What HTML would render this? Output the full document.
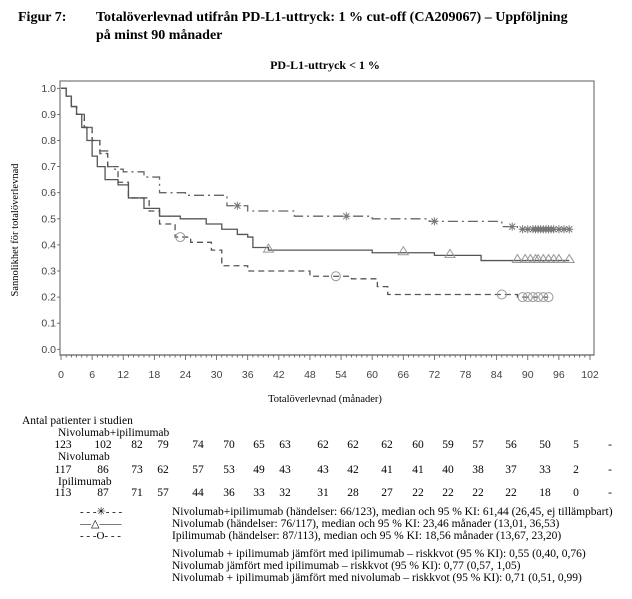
<!DOCTYPE html>
<html><head><meta charset="utf-8">
<style>
body{margin:0;background:#fff;}
svg{display:block;}
.ser{font-family:"Liberation Serif",serif;}
.san{font-family:"Liberation Sans",sans-serif;}
</style></head>
<body>
<svg id="chart" width="632" height="599" viewBox="0 0 632 599" xmlns="http://www.w3.org/2000/svg">
<text class="ser" x="18" y="21" font-size="14" font-weight="bold">Figur 7:</text>
<text class="ser" x="96" y="21" font-size="14" font-weight="bold">Totalöverlevnad utifrån PD-L1-uttryck: 1 % cut-off (CA209067) – Uppföljning</text>
<text class="ser" x="96" y="39" font-size="14" font-weight="bold">på minst 90 månader</text>
<text class="ser" x="325" y="69" font-size="12" font-weight="bold" text-anchor="middle">PD-L1-uttryck &lt; 1 %</text>
<rect x="60" y="81" width="534" height="274" fill="none" stroke="#777" stroke-width="1.2"/>
<text class="ser" transform="translate(18,230) rotate(-90)" font-size="10.5" text-anchor="middle">Sannolikhet för totalöverlevnad</text>
<text class="ser" x="325" y="402" font-size="10.5" text-anchor="middle">Totalöverlevnad (månader)</text>
<g id="axes"></g>
<g id="curves"></g>
<g id="risk"></g>
<g class="ser" font-size="11.5">
<text x="80" y="515" font-size="11">- - -✳- - -</text>
<text x="80" y="527" font-size="11">―△――</text>
<text x="80" y="539" font-size="11">- - -O- - -</text>
<text x="172" y="515">Nivolumab+ipilimumab (händelser: 66/123), median och 95 % KI: 61,44 (26,45, ej tillämpbart)</text>
<text x="172" y="527">Nivolumab (händelser: 76/117), median och 95 % KI: 23,46 månader (13,01, 36,53)</text>
<text x="172" y="539">Ipilimumab (händelser: 87/113), median och 95 % KI: 18,56 månader (13,67, 23,20)</text>
<text x="172" y="557">Nivolumab + ipilimumab jämfört med ipilimumab – riskkvot (95 % KI): 0,55 (0,40, 0,76)</text>
<text x="172" y="569">Nivolumab jämfört med ipilimumab – riskkvot (95 % KI): 0,77 (0,57, 1,05)</text>
<text x="172" y="581">Nivolumab + ipilimumab jämfört med nivolumab – riskkvot (95 % KI): 0,71 (0,51, 0,99)</text>
</g>
</svg>
<script>
const xTicks=[0,6,12,18,24,30,36,42,48,54,60,66,72,78,84,90,96,102];
const yTicks=[0,0.1,0.2,0.3,0.4,0.5,0.6,0.7,0.8,0.9,1.0];
const comboT=[0,1,2,3,4.5,6,7.5,9,10,12,16,19,24,32,36,45,60,71,85,88,98];
const comboS=[1,0.97,0.93,0.9,0.85,0.8,0.76,0.7,0.69,0.68,0.66,0.6,0.59,0.55,0.53,0.51,0.5,0.49,0.47,0.46,0.46];
const nivoT=[0,1,2,3,4,5,6,7,8.5,11,13,16,19,23,28,31,34,36,37,40,60,72,81,98];
const nivoS=[1,0.97,0.93,0.9,0.85,0.8,0.74,0.7,0.65,0.63,0.58,0.54,0.51,0.5,0.48,0.46,0.44,0.43,0.39,0.38,0.37,0.36,0.34,0.34];
const ipiT=[0,1,2,3,4.5,6,7.5,9,11,13,17,19,22,25,29,31,36,48,56,61,63,88,94];
const ipiS=[1,0.97,0.93,0.9,0.85,0.8,0.75,0.7,0.64,0.58,0.53,0.48,0.43,0.41,0.38,0.32,0.3,0.28,0.27,0.24,0.21,0.2,0.2];
const comboCens=[34,55,72,87,89,90,91,91.5,92,92.5,93,93.5,94,94.5,95,96,97,98];
const nivoCens=[40,66,75,88,89.5,90.5,91.5,92,93,94,95,96,98];
const ipiCens=[23,53,85,89,90,91,92,93,94];
const comboRisk=["123","102","82","79","74","70","65","63","62","62","62","60","59","57","56","50","5","-"];
const nivoRisk=["117","86","73","62","57","53","49","43","43","42","41","41","40","38","37","33","2","-"];
const ipiRisk=["113","87","71","57","44","36","33","32","31","28","27","22","22","22","22","18","0","-"];
const riskX=[63,103,137,163,198,229,259,285,323,353,387,418,448,478,511,545,576,610];

const NS="http://www.w3.org/2000/svg";
const X=t=>61+t*(590-61)/102;
const Y=s=>349.3-s*(349.3-88.3);
function mk(tag,attrs,parent){const e=document.createElementNS(NS,tag);for(const k in attrs)e.setAttribute(k,attrs[k]);parent.appendChild(e);return e;}
const axes=document.getElementById('axes');
const xa=mk('line',{x1:60,y1:355,x2:594,y2:355,stroke:'#555','stroke-width':1},axes);


for(let m=0;m<=102;m++){
  const major=m%6===0;
  const tk=mk('line',{x1:X(m),x2:X(m),y1:355,y2:major?360:357.5,stroke:'#555','stroke-width':0.8},axes);
  
  
}
xTicks.forEach(v=>{
  const t=mk('text',{x:X(v),y:378,'font-size':10.5,'text-anchor':'middle',fill:'#444','class':'san'},axes);
  t.textContent=v;
  
  
});
yTicks.forEach(v=>{
  const tk=mk('line',{x1:57,x2:60,y1:Y(v),y2:Y(v),stroke:'#555','stroke-width':0.8},axes);
  
  
  const t=mk('text',{x:56,y:Y(v)+3.5,'font-size':10.5,'text-anchor':'end',fill:'#444','class':'san'},axes);
  t.textContent=v.toFixed(1);
  
  
});
const curves=document.getElementById('curves');
function stepPath(T,S){let d='M'+X(T[0])+','+Y(S[0]);for(let i=1;i<T.length;i++){d+=' H'+X(T[i])+' V'+Y(S[i]);}return d;}
function survAt(T,S,t){let s=S[0];for(let i=0;i<T.length;i++){if(T[i]<=t)s=S[i];}return s;}
const series=[
 {T:comboT,S:comboS,c:comboCens,dash:'10,4,2,4',name:'combo',col:'#666'},
 {T:nivoT,S:nivoS,c:nivoCens,dash:'',name:'nivo',col:'#555'},
 {T:ipiT,S:ipiS,c:ipiCens,dash:'6,4',name:'ipi',col:'#555'}];
series.forEach(sr=>{
  const p=mk('path',{d:stepPath(sr.T,sr.S),fill:'none',stroke:sr.col,'stroke-width':1.3,'stroke-dasharray':sr.dash},curves);
  
  
  sr.c.forEach(t=>{
    const x=X(t),y=Y(survAt(sr.T,sr.S,t));
    let e;
    if(sr.name==='combo'){
      e=mk('path',{d:`M${x-4},${y} H${x+4} M${x},${y-4} V${y+4} M${x-3},${y-3} L${x+3},${y+3} M${x-3},${y+3} L${x+3},${y-3}`,stroke:'#777','stroke-width':1,fill:'none'},curves);
    }else if(sr.name==='nivo'){
      e=mk('path',{d:`M${x-5},${y+2} L${x},${y-6} L${x+5},${y+2} Z`,stroke:'#999','stroke-width':1,fill:'none'},curves);
    }else{
      e=mk('circle',{cx:x,cy:y,r:4.5,stroke:'#999','stroke-width':1,fill:'none'},curves);
    }
    
    
  });
});
const risk=document.getElementById('risk');
function txt(x,y,s,name,anchor){const t=mk('text',{x:x,y:y,'font-size':11.5,'class':'ser','text-anchor':anchor||'start'},risk);t.textContent=s;return t;}
txt(22,424,'Antal patienter i studien','risk-table-title');
txt(58,436,'Nivolumab+ipilimumab','risk-label-combo');
txt(58,460,'Nivolumab','risk-label-nivo');
txt(58,485,'Ipilimumab','risk-label-ipi');
[[comboRisk,448,'combo'],[nivoRisk,473,'nivo'],[ipiRisk,496,'ipi']].forEach(([arr,y,n])=>{
  arr.forEach((v,i)=>{txt(riskX[i],y,v,'risk-count-'+n,'middle');});
});
</script>
</body></html>
